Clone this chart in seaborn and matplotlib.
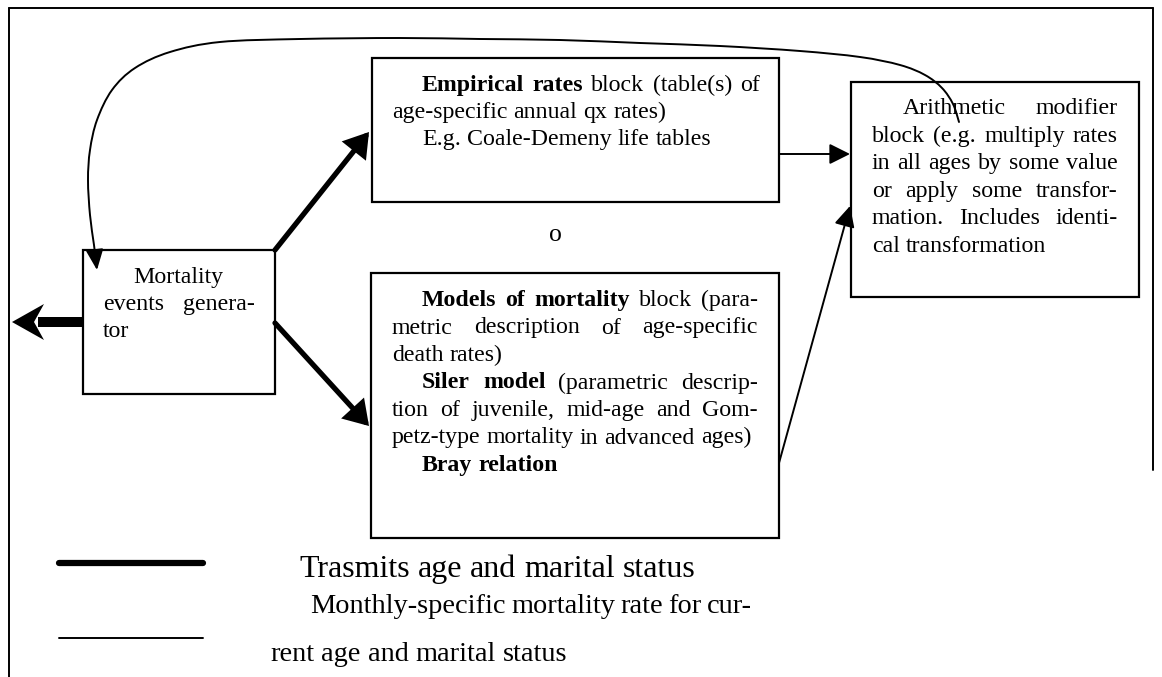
import numpy as np
import matplotlib
matplotlib.use('Agg')
import matplotlib.pyplot as plt
import seaborn as sns
from matplotlib.patches import Rectangle, FancyArrowPatch, Polygon
from matplotlib.path import Path

sns.set_theme(style='white')
plt.rcParams['font.family'] = ['Liberation Serif', 'DejaVu Serif']

# Boxes of the diagram (pixel layout: left, top, right, bottom)
box_left = [83, 372, 371, 851]
box_top = [250, 58, 273, 82]
box_right = [275, 779, 779, 1139]
box_bottom = [394, 202, 538, 297]

# Text of each box: (text, justify, indent); **word** is bold
generator_lines = [
    ("Mortality", False, True),
    ("events genera-", True, False),
    ("tor", False, False),
]
empirical_lines = [
    ("**Empirical** **rates** block (table(s) of", True, True),
    ("age-specific annual qx rates)", False, False),
    ("E.g. Coale-Demeny life tables", False, True),
]
models_lines = [
    ("**Models** **of** **mortality** block (para-", True, True),
    ("metric description of age-specific", True, False),
    ("death rates)", False, False),
    ("**Siler** **model** (parametric descrip-", True, True),
    ("tion of juvenile, mid-age and Gom-", True, False),
    ("petz-type mortality in advanced ages)", False, False),
    ("**Bray** **relation**", False, True),
]
modifier_lines = [
    ("Arithmetic modifier", True, True),
    ("block (e.g. multiply rates", True, False),
    ("in all ages by some value", True, False),
    ("or apply some transfor-", True, False),
    ("mation. Includes identi-", True, False),
    ("cal transformation", False, False),
]
legend_labels = [
    "Trasmits age and marital status",
    "Monthly-specific mortality rate for cur-",
    "rent age and marital status",
]

# text margins (x0, x1, first baseline, line step)
generator_text = (103, 255, 283, 27)
empirical_text = (392, 760, 91, 27.2)
models_text = (392, 758, 306, 27.5)
modifier_text = (872, 1118, 114, 27.6)

# curved feedback arrow waypoints
curve_x = [959, 953, 942, 925, 900, 860, 800, 720, 640, 560, 480, 400, 300, 220,
           170, 135, 112, 97, 90, 88, 90, 94, 97]
curve_y = [122, 104, 88, 75, 65, 57, 51, 46, 43, 40, 39, 38, 39, 42,
           52, 68, 90, 120, 150, 180, 215, 245, 270]

fig = plt.figure(figsize=(11.62, 6.77), dpi=100)
ax = fig.add_axes([0, 0, 1, 1])
ax.set_xlim(0, 1162)
ax.set_ylim(677, 0)
ax.axis('off')
fig.canvas.draw()
renderer = fig.canvas.get_renderer()

BOX_FS = 17.2
LEG1_FS = 23.0
LEG2_FS = 20.4


def word_width(word, bold, size):
    t = ax.text(0, 0, word, fontsize=size, fontweight='bold' if bold else 'normal')
    w = t.get_window_extent(renderer).width
    t.remove()
    return w


def draw_line(text, x0, x1, y, size, justify):
    words = []
    for tok in text.split(' '):
        if tok.startswith('**'):
            words.append((tok.strip('*'), True))
        else:
            words.append((tok, False))
    widths = [word_width(w, b, size) for w, b in words]
    space = word_width('a a', False, size) - word_width('aa', False, size)
    if justify and len(words) > 1:
        gap = (x1 - x0 - sum(widths)) / (len(words) - 1)
    else:
        gap = space
    x = x0
    for (w, b), wd in zip(words, widths):
        ax.text(x, y, w, fontsize=size, fontweight='bold' if b else 'normal',
                ha='left', va='baseline', color='black')
        x += wd + gap
    return x - gap


def draw_block(lines, margins, size=BOX_FS, indent=30):
    x0, x1, y0, step = margins
    for i, (text, justify, ind) in enumerate(lines):
        draw_line(text, x0 + (indent if ind else 0), x1, y0 + i * step, size, justify)


# outer frame
ax.plot([9, 9], [677, 8], color='black', lw=1.4)
ax.plot([9, 1153], [8, 8], color='black', lw=1.4)
ax.plot([1153, 1153], [8, 470], color='black', lw=1.4)

# boxes
for l, t, r, b in zip(box_left, box_top, box_right, box_bottom):
    ax.add_patch(Rectangle((l, t), r - l, b - t, fill=False, ec='black', lw=1.6))

draw_block(generator_lines, generator_text)
draw_block(empirical_lines, empirical_text)
draw_block(models_lines, models_text)
draw_block(modifier_lines, modifier_text, indent=31)

ax.text(555, 241, "o", fontsize=18.5, ha='center', va='baseline', color='black')

# thick arrows from the generator
thick = dict(arrowstyle='-|>,head_length=0.55,head_width=0.35', mutation_scale=22,
             lw=3.8, color='black', shrinkA=0, shrinkB=0, joinstyle='miter')
ax.add_patch(FancyArrowPatch((275, 250), (369, 132), **thick))
ax.add_patch(FancyArrowPatch((275, 323), (369, 426), **thick))

# thin arrows into the modifier block
thin = dict(arrowstyle='-|>,head_length=0.7,head_width=0.35', mutation_scale=18,
            lw=1.4, color='black', shrinkA=0, shrinkB=0)
ax.add_patch(FancyArrowPatch((779, 154), (850, 154), **thin))
ax.add_patch(FancyArrowPatch((779, 463), (850, 206), **thin))

# output arrow on the left
ax.add_patch(Rectangle((38, 317), 45, 10, color='black', lw=0))
ax.add_patch(Polygon([(12, 322), (44, 304), (34, 322), (44, 340)], closed=True,
                     color='black', lw=0))

# curved feedback arrow (Catmull-Rom through the waypoints)
pts = np.column_stack([curve_x, curve_y]).astype(float)
verts = [pts[0]]
codes = [Path.MOVETO]
for i in range(len(pts) - 1):
    p0 = pts[i - 1] if i > 0 else pts[i]
    p1, p2 = pts[i], pts[i + 1]
    p3 = pts[i + 2] if i + 2 < len(pts) else pts[i + 1]
    verts += [p1 + (p2 - p0) / 6, p2 - (p3 - p1) / 6, p2]
    codes += [Path.CURVE4] * 3
ax.add_patch(FancyArrowPatch(path=Path(verts, codes),
                             arrowstyle='-|>,head_length=0.7,head_width=0.3',
                             mutation_scale=18, lw=1.4, color='black'))

# legend
legend_x = [59, 203]
sns.lineplot(x=legend_x, y=[563, 563], color='black', lw=4.5, ax=ax)
sns.lineplot(x=legend_x, y=[638, 638], color='black', lw=1.4, ax=ax)
draw_line(legend_labels[0], 299, 697, 577, LEG1_FS, False)
draw_line(legend_labels[1], 310, 752, 613, LEG2_FS, True)
draw_line(legend_labels[2], 270, 752, 661, LEG2_FS, False)

ax.set_xlim(0, 1162)
ax.set_ylim(677, 0)
fig.savefig('out.png', dpi=100, facecolor='white')
